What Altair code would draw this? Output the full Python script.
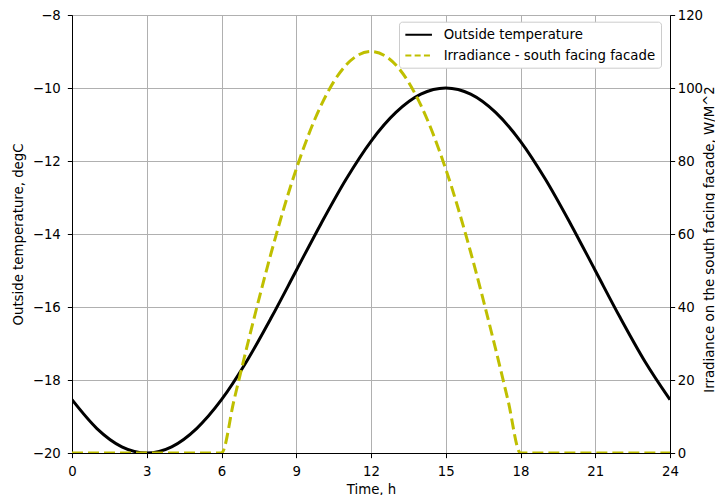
import altair as alt
import pandas as pd

# Outside temperature (degC), hourly
hours_temp = list(range(25))
temperature = [-18.54, -19.33, -19.83, -20.0, -19.83, -19.33, -18.54, -17.5, -16.29,
               -15.0, -13.71, -12.5, -11.46, -10.67, -10.17, -10.0, -10.17, -10.67,
               -11.46, -12.5, -13.71, -15.0, -16.29, -17.5, -18.54]

# Irradiance on the south facing facade (W/m^2)
hours_irr = [0, 1, 2, 3, 4, 5, 6, 6.5, 7, 7.5, 8, 9, 10, 11, 12, 13, 14, 15, 16,
             16.5, 17, 17.5, 18, 19, 20, 21, 22, 23, 24]
irradiance = [0, 0, 0, 0, 0, 0, 0, 14.4, 28.5, 42.1, 55, 77.8, 95.3, 106.3, 110,
              106.3, 95.3, 77.8, 55, 42.1, 28.5, 14.4, 0, 0, 0, 0, 0, 0, 0]

series_names = ["Outside temperature", "Irradiance - south facing facade"]
series_colors = ["#000000", "#bfbf00"]
x_ticks = [0, 3, 6, 9, 12, 15, 18, 21, 24]
left_ticks = [-20, -18, -16, -14, -12, -10, -8]
right_ticks = [0, 20, 40, 60, 80, 100, 120]

temp_df = pd.DataFrame({"hour": hours_temp, "value": temperature})
irr_df = pd.DataFrame({"hour": hours_irr, "value": irradiance})
legend_df = pd.DataFrame({"series": series_names})

FONT = "DejaVu Sans"
FS = 13.3

x_enc = alt.X("hour:Q",
              scale=alt.Scale(domain=[0, 24], nice=False, zero=False),
              axis=alt.Axis(values=x_ticks, title="Time, h", titleY=40,
                            titleBaseline="alphabetic", labelPadding=6.5))

temp_line = alt.Chart(temp_df).mark_line(
    strokeWidth=3, interpolate="monotone", clip=True, color=series_colors[0]
).encode(
    x=x_enc,
    y=alt.Y("value:Q",
            scale=alt.Scale(domain=[-20, -8], nice=False, zero=False),
            axis=alt.Axis(values=left_ticks, title="Outside temperature, degC",
                          labelPadding=7,
                          titleAngle=270, titleX=-50, titleY=219,
                          titleAlign="center", titleBaseline="alphabetic")),
)

irr_line = alt.Chart(irr_df).mark_line(
    strokeWidth=3, interpolate="monotone", clip=True, strokeDash=[11, 5],
    color=series_colors[1]
).encode(
    x=x_enc,
    y=alt.Y("value:Q",
            scale=alt.Scale(domain=[0, 120], nice=False, zero=True),
            axis=alt.Axis(values=right_ticks, orient="right", grid=False,
                          labelPadding=2.5,
                          title="Irradiance on the south facing facade, W/M^2",
                          titleAngle=270, titleX=43, titleY=224,
                          titleAlign="center", titleBaseline="alphabetic")),
)

legend_cfg = dict(
    title=None, orient="none", legendX=327, legendY=6.7,
    symbolType="M-2,0L2,0", symbolSize=177, symbolStrokeWidth=2,
    symbolOffset=6.65, symbolOpacity=1, labelOffset=17, labelLimit=400,
)

legend_layer = alt.Chart(legend_df).mark_line(strokeOpacity=0, opacity=0).encode(
    x=alt.value(0),
    y=alt.value(0),
    color=alt.Color(
        "series:N",
        scale=alt.Scale(domain=series_names, range=series_colors),
        legend=alt.Legend(**legend_cfg),
    ),
    strokeDash=alt.StrokeDash(
        "series:N",
        scale=alt.Scale(domain=series_names, range=[[1, 0], [6, 3.3]]),
        legend=alt.Legend(**legend_cfg),
    ),
)

chart = alt.layer(temp_line, irr_line, legend_layer).resolve_scale(
    y="independent"
).properties(
    width=598, height=438,
    autosize=alt.AutoSizeParams(type="none"),
    padding={"left": 64, "top": 7, "right": 45, "bottom": 42},
).configure_view(
    stroke="black", strokeWidth=1
).configure_axis(
    labelFont=FONT, labelFontSize=FS, labelColor="black",
    titleFont=FONT, titleFontSize=FS, titleFontWeight="normal", titleColor="black",
    domainColor="black", tickColor="black", tickSize=4.67,
    gridColor="#b0b0b0", gridWidth=1, labelFlush=False,
).configure_legend(
    labelFont=FONT, labelFontSize=FS, labelColor="black",
    fillColor="white", strokeColor="#cccccc", cornerRadius=3, padding=5,
    rowPadding=5.8,
)

chart.save("out.html", embed_options={"renderer": "svg", "actions": False})
